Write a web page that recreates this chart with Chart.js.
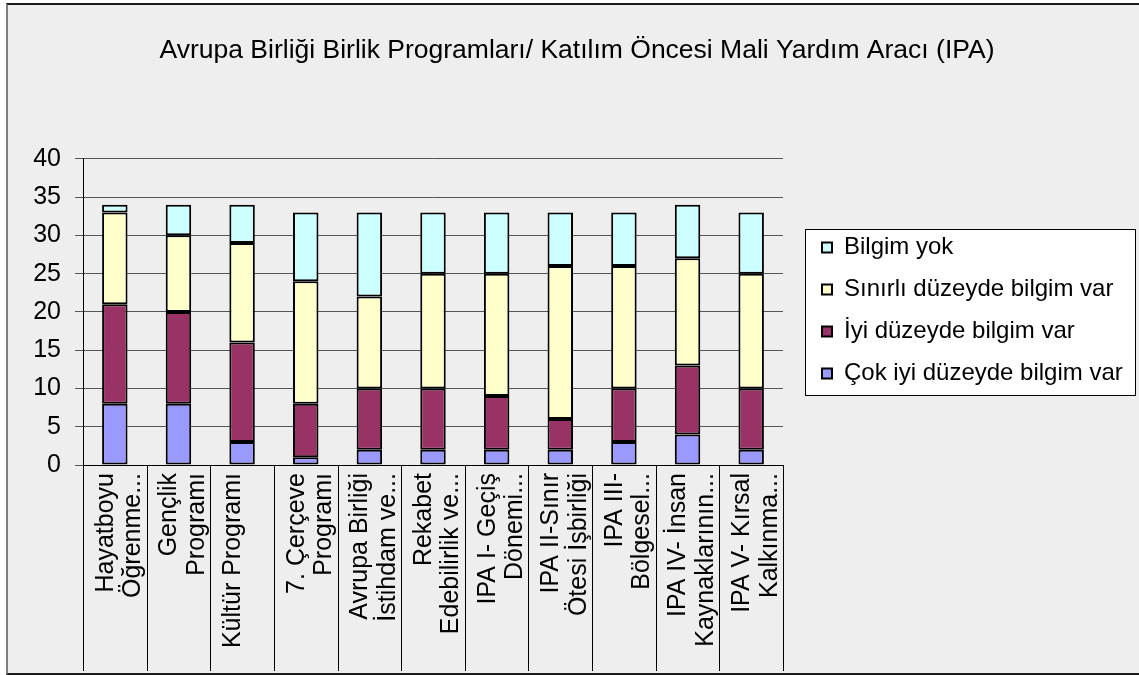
<!DOCTYPE html>
<html>
<head>
<meta charset="utf-8">
<script src="https://cdn.jsdelivr.net/npm/chart.js"></script>
<style>
  body { margin: 0; background: #fff; }
  #frame {
    position: absolute; left: 6px; top: 3px; width: 1133px; height: 668px;
    background: #eeeeee;
    border-left: 2px solid #808080; border-top: 2px solid #1a1a1a; border-bottom: 2px solid #1a1a1a;
  }
  #wrap { position: absolute; left: 0; top: 0; width: 1139px; height: 675px; }
</style>
</head>
<body>
<div id="frame"></div>
<div id="wrap"><canvas id="myChart"></canvas></div>
<script>
const categories = [
  ["Hayatboyu", "Öğrenme..."],
  ["Gençlik", "Programı"],
  "Kültür Programı",
  ["7. Çerçeve", "Programı"],
  ["Avrupa Birliği", "İstihdam ve..."],
  ["Rekabet", "Edebilirlik ve..."],
  ["IPA I- Geçiş", "Dönemi..."],
  ["IPA II-Sınır", "Ötesi İşbirliği"],
  ["IPA III-", "Bölgesel..."],
  ["IPA IV- İnsan", "Kaynaklarının..."],
  ["IPA V- Kırsal", "Kalkınma..."],
];
const cokIyi = [8, 8, 3, 1, 2, 2, 2, 2, 3, 4, 2];
const iyi = [13, 12, 13, 7, 8, 8, 7, 4, 7, 9, 8];
const sinirli = [12, 10, 13, 16, 12, 15, 16, 20, 16, 14, 15];
const yok = [1, 4, 5, 9, 11, 8, 8, 7, 7, 7, 8];
const yTicks = [0, 5, 10, 15, 20, 25, 30, 35, 40];

Chart.defaults.font.family = "'Liberation Sans', Arial, sans-serif";
Chart.defaults.color = "#000";

// legend frame + category separators under the x axis
const extras = {
  id: "extras",
  afterLayout(chart) {
    let lg = chart.legend;
    lg.left += 21;
    lg.right = 1137;
    lg.width = lg.right - lg.left;
    lg.top -= 27;
    lg.bottom -= 27;
    // title is centred on the whole picture in the original
    chart.titleBlock.left += 55;
    chart.titleBlock.right += 55;
  },
  beforeDraw(chart) {
    let ctx = chart.ctx;
    let hb = chart.legend.legendHitBoxes;
    if (!hb || !hb.length) return;
    let first = hb[0];
    let last = hb[hb.length - 1];
    let top = Math.round(first.top + first.height / 2 - 19);
    let bottom = Math.round(last.top + last.height / 2 + 21);
    let left = Math.round(first.left - 17);
    ctx.save();
    ctx.fillStyle = "#fff";
    ctx.strokeStyle = "#000";
    ctx.lineWidth = 1;
    ctx.fillRect(left, top, 1135 - left, bottom - top);
    ctx.strokeRect(left + 0.5, top + 0.5, 1135 - left, bottom - top);
    ctx.restore();
  },
  afterDraw(chart) {
    let ctx = chart.ctx;
    let x = chart.scales.x;
    let a = chart.chartArea;
    ctx.save();
    ctx.strokeStyle = "#000";
    ctx.lineWidth = 1;
    ctx.beginPath();
    for (let i = 0; i <= categories.length; i++) {
      let px = Math.round(x.getPixelForValue(i - 0.5)) + 0.5;
      ctx.moveTo(px, a.bottom);
      ctx.lineTo(px, 671);
    }
    ctx.stroke();
    ctx.restore();
  },
};

new Chart("myChart", {
  type: "bar",
  data: {
    labels: categories,
    datasets: [
      { label: "Çok iyi düzeyde bilgim var", data: cokIyi, backgroundColor: "#9999ff" },
      { label: "İyi düzeyde bilgim var", data: iyi, backgroundColor: "#993366" },
      { label: "Sınırlı düzeyde bilgim var", data: sinirli, backgroundColor: "#ffffcc" },
      { label: "Bilgim yok", data: yok, backgroundColor: "#ccffff" },
    ].map((d) => ({
      ...d,
      borderColor: "#000",
      borderWidth: 2,
      borderSkipped: false,
      barPercentage: 0.4,
      categoryPercentage: 1,
    })),
  },
  options: {
    responsive: true,
    maintainAspectRatio: false,
    animation: false,
    layout: { padding: { left: 0, right: 95, top: 0, bottom: 0 } },
    plugins: {
      title: {
        display: true,
        text: "Avrupa Birliği Birlik Programları/ Katılım Öncesi Mali Yardım Aracı (IPA)",
        font: { size: 26.5, weight: "normal" },
        color: "#000",
        padding: { top: 35, bottom: 92 },
      },
      legend: {
        position: "right",
        reverse: true,
        labels: {
          font: { size: 24 },
          boxWidth: 10,
          boxHeight: 10,
          padding: 18,
          color: "#000",
        },
      },
      tooltip: { enabled: false },
    },
    scales: {
      x: {
        stacked: true,
        grid: { drawOnChartArea: false, drawTicks: false, color: "#000" },
        border: { color: "#000", width: 1 },
        ticks: {
          autoSkip: false,
          minRotation: 90,
          maxRotation: 90,
          padding: 8,
          labelOffset: -9,
          font: { size: 25, lineHeight: 1.1 },
          color: "#000",
        },
        afterFit(scale) {
          scale.height = 210;
        },
      },
      y: {
        stacked: true,
        min: 0,
        max: 40,
        afterBuildTicks(scale) {
          scale.ticks = yTicks.map((v) => ({ value: v }));
        },
        grid: { color: "#555", tickLength: 8 },
        border: { color: "#000", width: 1 },
        ticks: { padding: 14, font: { size: 25 }, color: "#000" },
        afterFit(scale) {
          scale.width = 83;
        },
      },
    },
  },
  plugins: [extras],
});
</script>
</body>
</html>
